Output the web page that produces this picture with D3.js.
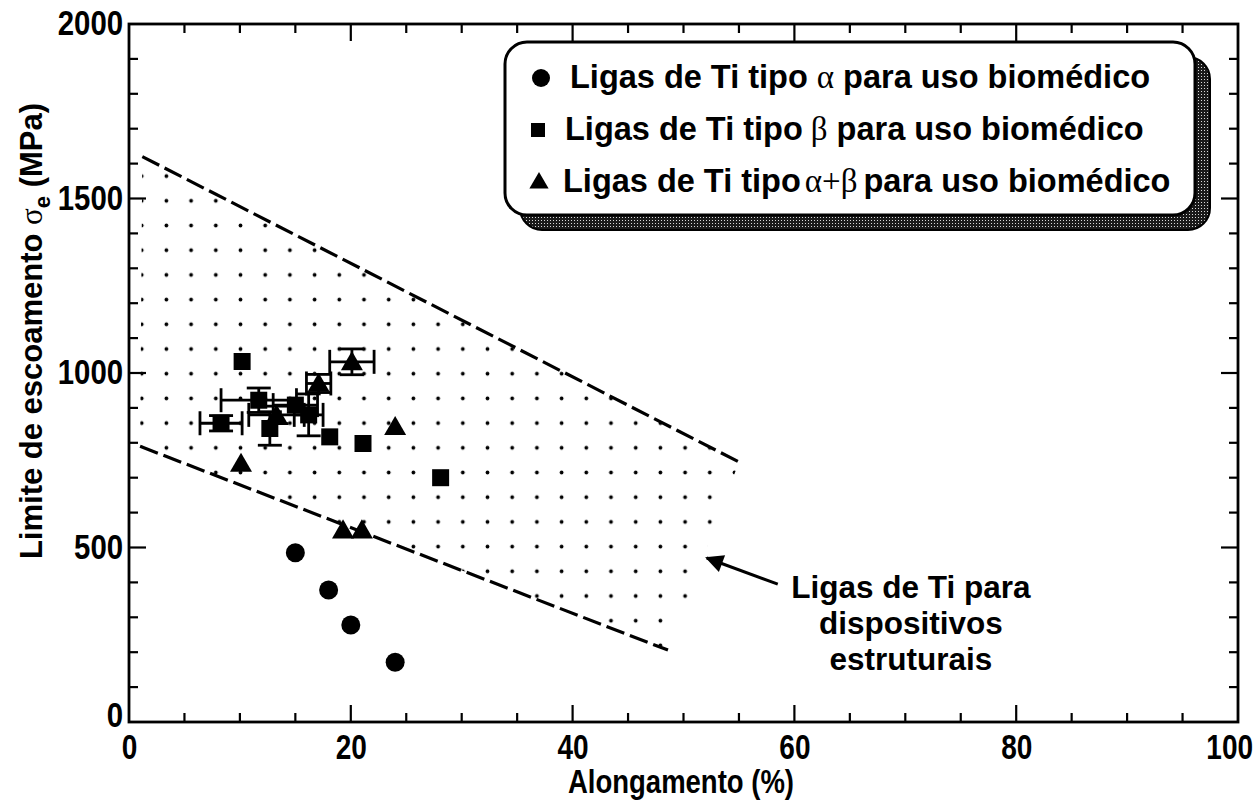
<!DOCTYPE html>
<html>
<head>
<meta charset="utf-8">
<script src="https://cdn.jsdelivr.net/npm/d3@7"></script>
<style>
  html, body { margin: 0; padding: 0; background: #fff; }
  svg { display: block; }
  text { font-family: "Liberation Sans", Arial, sans-serif; font-weight: bold; fill: #000; }
  .greek { font-family: "Liberation Serif", "Times New Roman", serif; font-weight: normal; }
</style>
</head>
<body>
<svg id="chart" width="1258" height="802"></svg>
<script>
// Titanium alloys: yield strength (MPa) vs elongation (%)
const alphaAlloys = [
  { x: 15, y: 485 },
  { x: 18, y: 378 },
  { x: 20, y: 278 },
  { x: 24, y: 171 }
];

// xe / ye: half-width of the error bars (0 = none)
const betaAlloys = [
  { x: 10.2, y: 1033, xe: 0,   ye: 0 },
  { x: 8.3,  y: 856,  xe: 1.9, ye: 22 },
  { x: 11.7, y: 922,  xe: 3.4, ye: 35 },
  { x: 12.7, y: 841,  xe: 0,   ye: 48 },
  { x: 15.0, y: 908,  xe: 2.0, ye: 0 },
  { x: 16.2, y: 880,  xe: 1.3, ye: 60 },
  { x: 18.1, y: 817,  xe: 0,   ye: 0 },
  { x: 21.1, y: 798,  xe: 0,   ye: 0 },
  { x: 28.1, y: 700,  xe: 0,   ye: 0 }
];

const alphaBetaAlloys = [
  { x: 10.1, y: 741,  xe: 0,   ye: 0 },
  { x: 13.3, y: 880,  xe: 2.5, ye: 25 },
  { x: 17.1, y: 970,  xe: 1.1, ye: 26 },
  { x: 20.1, y: 1032, xe: 2.0, ye: 37 },
  { x: 24.0, y: 846,  xe: 0,   ye: 0 },
  { x: 19.3, y: 550,  xe: 0,   ye: 0 },
  { x: 21.0, y: 550,  xe: 0,   ye: 0 }
];

// Band of structural Ti alloys (dashed limits)
const upperBound = [{ x: 1.2, y: 1620 }, { x: 55.0, y: 745 }];
const lowerBound = [{ x: 1.0, y: 790 }, { x: 48.6, y: 206 }];

const xTicks = [0, 20, 40, 60, 80, 100];
const yTicks = [0, 500, 1000, 1500, 2000];

const legendLabels = [
  ["Ligas de Ti tipo", "α", "para uso biomédico"],
  ["Ligas de Ti tipo", "β", "para uso biomédico"],
  ["Ligas de Ti tipo", "α+β", "para uso biomédico"]
];
const bandLabel = ["Ligas de Ti para", "dispositivos", "estruturais"];
const arrowFrom = { x: 58.5, y: 395 };
const arrowTo = { x: 52.1, y: 470 };
const bandLabelPos = { x: 70.5, y: 355 };

const svg = d3.select("#chart");
const x = d3.scaleLinear().domain([0, 100]).range([129, 1238]);
const y = d3.scaleLinear().domain([0, 2000]).range([722, 24]);

const defs = svg.append("defs");

// dotted fill for the band
const dotStep = 24.7;
const dots = defs.append("pattern")
  .attr("id", "dots").attr("patternUnits", "userSpaceOnUse")
  .attr("width", dotStep).attr("height", dotStep)
  .attr("x", 141.7 - dotStep / 2).attr("y", 349 - dotStep / 2);
dots.append("circle").attr("cx", dotStep / 2).attr("cy", dotStep / 2).attr("r", 1.9).attr("fill", "#000");

// textured legend shadow
const shade = defs.append("pattern")
  .attr("id", "shade").attr("patternUnits", "userSpaceOnUse")
  .attr("width", 3).attr("height", 3);
shade.append("rect").attr("width", 3).attr("height", 3).attr("fill", "#1a1a1a");
shade.append("rect").attr("x", 1).attr("y", 1).attr("width", 1).attr("height", 1).attr("fill", "#d8d8d8");

// band region
const band = [upperBound[0], upperBound[1], lowerBound[1], lowerBound[0]];
svg.append("path")
  .attr("d", "M" + band.map(p => x(p.x) + "," + y(p.y)).join("L") + "Z")
  .attr("fill", "url(#dots)");

const line = d3.line().x(d => x(d.x)).y(d => y(d.y));
[upperBound, lowerBound].forEach(b => {
  svg.append("path").attr("d", line(b))
    .attr("fill", "none").attr("stroke", "#000")
    .attr("stroke-width", 3.2).attr("stroke-dasharray", "19,6");
});

// axes frame and ticks
const frame = svg.append("g");
frame.append("rect")
  .attr("x", x(0)).attr("y", y(2000))
  .attr("width", x(100) - x(0)).attr("height", y(0) - y(2000))
  .attr("fill", "none").attr("stroke", "#000").attr("stroke-width", 2.8);

const xMinor = d3.range(5, 100, 5);
const yMinor = d3.range(100, 2000, 100);
xMinor.forEach(v => {
  const len = v % 20 === 0 ? 17 : 9;
  frame.append("line").attr("x1", x(v)).attr("x2", x(v)).attr("y1", y(0)).attr("y2", y(0) - len)
    .attr("stroke", "#000").attr("stroke-width", 2.2);
  frame.append("line").attr("x1", x(v)).attr("x2", x(v)).attr("y1", y(2000)).attr("y2", y(2000) + len)
    .attr("stroke", "#000").attr("stroke-width", 2.2);
});
yMinor.forEach(v => {
  const len = v % 500 === 0 ? 17 : 9;
  frame.append("line").attr("x1", x(0)).attr("x2", x(0) + len).attr("y1", y(v)).attr("y2", y(v))
    .attr("stroke", "#000").attr("stroke-width", 2.2);
  frame.append("line").attr("x1", x(100)).attr("x2", x(100) - len).attr("y1", y(v)).attr("y2", y(v))
    .attr("stroke", "#000").attr("stroke-width", 2.2);
});

// tick labels via d3 axes (lines hidden, frame drawn above)
const xAxis = svg.append("g").attr("transform", `translate(0,${y(0)})`)
  .call(d3.axisBottom(x).tickValues(xTicks).tickSize(0).tickPadding(0).tickFormat(d3.format("d")));
xAxis.select(".domain").remove();
xAxis.selectAll("text")
  .attr("font-size", 35).attr("font-family", "Liberation Sans, Arial, sans-serif")
  .attr("dy", 0).attr("y", 37)
  .attr("x", d => d === 100 ? -11 : 0)
  .attr("transform", "scale(0.8,1)");

const yAxis = svg.append("g").attr("transform", `translate(${x(0)},0)`)
  .call(d3.axisLeft(y).tickValues(yTicks).tickSize(0).tickPadding(0).tickFormat(d3.format("d")));
yAxis.select(".domain").remove();
yAxis.selectAll("text")
  .attr("font-size", 35).attr("font-family", "Liberation Sans, Arial, sans-serif")
  .attr("x", -7).attr("dy", d => d === 0 ? "0.14em" : "0.3em")
  .attr("transform", "scale(0.84,1)");

// axis titles
svg.append("text")
  .attr("x", 681).attr("y", 793)
  .attr("text-anchor", "middle").attr("font-size", 33)
  .attr("textLength", 226).attr("lengthAdjust", "spacingAndGlyphs")
  .text("Alongamento (%)");

const yTitle = svg.append("text")
  .attr("transform", "translate(42,331) rotate(-90)")
  .attr("text-anchor", "middle").attr("font-size", 31);
yTitle.append("tspan").text("Limite de escoamento ");
yTitle.append("tspan").attr("class", "greek").attr("font-size", 31).text("σ");
yTitle.append("tspan").attr("font-size", 22).attr("dy", 8).text("e");
yTitle.append("tspan").attr("dy", -8).text(" (MPa)");

// error bars
const cap = 12;
function errorBars(data) {
  const g = svg.append("g").attr("stroke", "#000").attr("stroke-width", 2.8);
  data.filter(d => d.xe > 0).forEach(d => {
    const x1 = x(d.x - d.xe), x2 = x(d.x + d.xe), yy = y(d.y);
    g.append("line").attr("x1", x1).attr("x2", x2).attr("y1", yy).attr("y2", yy);
    g.append("line").attr("x1", x1).attr("x2", x1).attr("y1", yy - cap).attr("y2", yy + cap);
    g.append("line").attr("x1", x2).attr("x2", x2).attr("y1", yy - cap).attr("y2", yy + cap);
  });
  data.filter(d => d.ye > 0).forEach(d => {
    const y1 = y(d.y - d.ye), y2 = y(d.y + d.ye), xx = x(d.x);
    g.append("line").attr("x1", xx).attr("x2", xx).attr("y1", y1).attr("y2", y2);
    g.append("line").attr("x1", xx - cap).attr("x2", xx + cap).attr("y1", y1).attr("y2", y1);
    g.append("line").attr("x1", xx - cap).attr("x2", xx + cap).attr("y1", y2).attr("y2", y2);
  });
}
errorBars(betaAlloys);
errorBars(alphaBetaAlloys);

// markers
const sq = d3.symbol().type(d3.symbolSquare).size(17 * 17);
const tri = d3.symbol().type(d3.symbolTriangle).size(210);
svg.append("g").selectAll("circle").data(alphaAlloys).join("circle")
  .attr("cx", d => x(d.x)).attr("cy", d => y(d.y)).attr("r", 9.5).attr("fill", "#000");
svg.append("g").selectAll("path").data(betaAlloys).join("path")
  .attr("d", sq).attr("transform", d => `translate(${x(d.x)},${y(d.y)})`).attr("fill", "#000");
svg.append("g").selectAll("path").data(alphaBetaAlloys).join("path")
  .attr("d", tri).attr("transform", d => `translate(${x(d.x)},${y(d.y) + 2})`).attr("fill", "#000");

// legend box with shadow
const lg = { left: 505, top: 42, w: 690, h: 173, r: 22, off: 15 };
svg.append("rect")
  .attr("x", lg.left + lg.off).attr("y", lg.top + lg.off)
  .attr("width", lg.w).attr("height", lg.h).attr("rx", lg.r)
  .attr("fill", "url(#shade)").attr("stroke", "#000").attr("stroke-width", 2);
svg.append("rect")
  .attr("x", lg.left).attr("y", lg.top).attr("width", lg.w).attr("height", lg.h).attr("rx", lg.r)
  .attr("fill", "#fff").attr("stroke", "#000").attr("stroke-width", 3);

const rowBase = [88, 140, 192];
const rowStart = [570, 565, 563];
const greekGap = [[9, 9], [8, 9], [4, 6]];
svg.append("circle").attr("cx", 541).attr("cy", 78).attr("r", 9).attr("fill", "#000");
svg.append("path").attr("d", d3.symbol().type(d3.symbolSquare).size(14 * 14))
  .attr("transform", "translate(538,130)").attr("fill", "#000");
svg.append("path").attr("d", d3.symbol().type(d3.symbolTriangle).size(160))
  .attr("transform", "translate(539,183)").attr("fill", "#000");

legendLabels.forEach((parts, i) => {
  const t = svg.append("text")
    .attr("x", rowStart[i]).attr("y", rowBase[i]).attr("font-size", 32.5);
  t.append("tspan").text(parts[0]);
  t.append("tspan").attr("class", "greek").attr("font-size", 33).attr("dx", greekGap[i][0]).text(parts[1]);
  t.append("tspan").attr("dx", greekGap[i][1]).text(parts[2]);
});

// band annotation with arrow
defs.append("marker").attr("id", "head")
  .attr("viewBox", "0 0 10 10").attr("refX", 9).attr("refY", 5)
  .attr("markerWidth", 24).attr("markerHeight", 18).attr("markerUnits", "userSpaceOnUse")
  .attr("orient", "auto")
  .append("path").attr("d", "M0,0L10,5L0,10Z").attr("fill", "#000");
svg.append("line")
  .attr("x1", x(arrowFrom.x)).attr("y1", y(arrowFrom.y))
  .attr("x2", x(arrowTo.x)).attr("y2", y(arrowTo.y))
  .attr("stroke", "#000").attr("stroke-width", 3).attr("marker-end", "url(#head)");

const ann = svg.append("text").attr("text-anchor", "middle").attr("font-size", 31.5);
bandLabel.forEach((s, i) => {
  ann.append("tspan").attr("x", x(bandLabelPos.x)).attr("y", y(bandLabelPos.y) + i * 36).text(s);
});
</script>
</body>
</html>
